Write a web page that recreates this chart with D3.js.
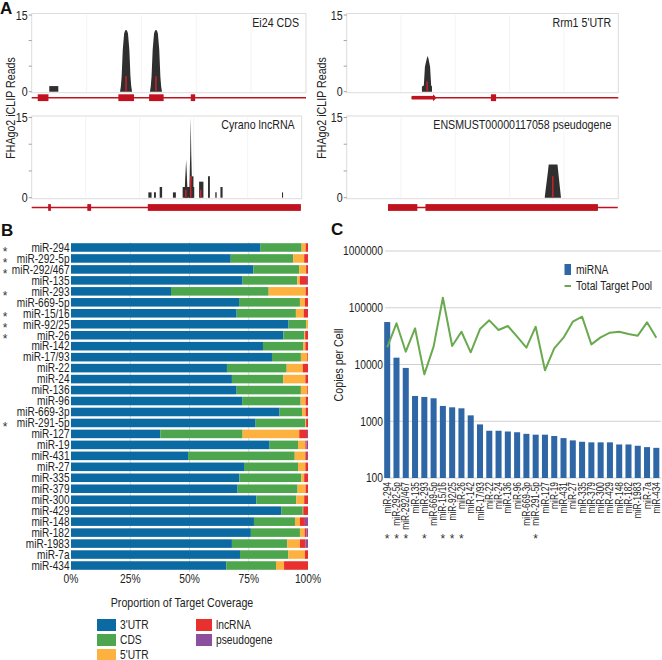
<!DOCTYPE html>
<html><head><meta charset="utf-8">
<script src="https://cdn.jsdelivr.net/npm/d3@7/dist/d3.min.js"></script>
<style>
body{margin:0;background:#fff}
svg{font-family:"Liberation Sans",Arial,sans-serif;}
</style></head><body>
<svg id="fig" width="662" height="660"></svg>
<script>
// ---------------- DATA ----------------
const mirnas = ["miR-294","miR-292-5p","miR-292/467","miR-135","miR-293","miR-669-5p","miR-15/16","miR-92/25","miR-26","miR-142","miR-17/93","miR-22","miR-24","miR-136","miR-96","miR-669-3p","miR-291-5p","miR-127","miR-19","miR-431","miR-27","miR-335","miR-379","miR-300","miR-429","miR-148","miR-182","miR-1983","miR-7a","miR-434"];
const starred = ["miR-294","miR-292-5p","miR-292/467","miR-293","miR-15/16","miR-92/25","miR-26","miR-291-5p"];
// Panel B proportions
const utr3   = [.800,.674,.769,.724,.422,.709,.699,.918,.896,.810,.848,.658,.679,.699,.722,.880,.779,.377,.838,.494,.730,.710,.703,.782,.887,.772,.759,.679,.713,.655];
const cds    = [.173,.264,.194,.231,.412,.257,.250,.074,.088,.169,.122,.252,.217,.271,.247,.095,.210,.347,.120,.450,.228,.262,.253,.169,.091,.173,.207,.234,.204,.210];
const utr5   = [.017,.046,.029,.011,.156,.021,.033,.008,.004,.010,.027,.068,.093,.027,.021,.015,.003,.239,.031,.045,.031,.012,.034,.033,.002,.021,.020,.053,.070,.034];
const lncRNA = [.010,.016,.008,.030,.010,.013,.018,.000,.012,.011,.003,.022,.011,.003,.010,.010,.008,.033,.005,.007,.011,.016,.010,.016,.020,.021,.008,.024,.013,.101];
const pseudo = [0,0,0,.004,0,0,0,0,0,0,0,0,0,0,0,0,0,.004,.006,.004,0,0,0,0,0,.013,.006,.010,0,0];
const bKeys = ["3'UTR","CDS","5'UTR","lncRNA","pseudogene"];
const bTicks = [0,0.25,0.5,0.75,1];
const bTickLabels = ["0%","25%","50%","75%","100%"];
// Panel C
const mirnaCopies = [56000,13200,8700,2790,2680,2540,1860,1760,1690,1270,880,680,680,660,640,600,580,580,550,505,460,435,425,425,425,390,390,370,350,340];
const targetPool  = [20100,53200,16800,43400,6700,20600,150000,21200,37800,16400,42200,60000,40500,47700,30900,19800,46400,7900,19300,29700,56800,69600,22600,30100,36400,37800,34400,32200,55400,29700];
const cTicks = [100,1000,10000,100000,1000000];
// Panel A (positions in % of locus window, heights in reads)
const ei24Peaks = [
  [[6.4,0],[6.4,1.1],[9.7,1.1],[9.7,0]],
  [[32.2,0],[32.5,1],[32.8,3],[33.2,8.2],[33.7,11.4],[34.1,12],[34.7,12],[35.1,11.4],[35.6,8.2],[36.0,3],[36.3,1],[36.6,0]],
  [[43.1,0],[43.4,1],[43.7,3],[44.1,8.2],[44.6,11.4],[45.0,12],[45.6,12],[46.0,11.4],[46.5,8.2],[46.9,3],[47.2,1],[47.5,0]]
];
const ei24Sites = [[34.4,3],[45.3,3]];
const ei24Exons = [[2.2,6.1],[31.6,37.3],[42.8,48.1],[58.0,59.6]];
const ei24Line = [0,100];
const rrm1Peaks = [[[27.7,0],[27.7,1],[28.4,1.2],[28.8,4.9],[29.5,6.5],[29.8,7],[30.1,6.5],[30.7,4.9],[31.1,1.2],[31.4,1],[31.4,0]]];
const rrm1Sites = [[29.6,2]];
const rrm1Exons = [[53.1,55.0]];
const rrm1Utr = [[23.9,32.5]];
const rrm1Line = [23.9,100];
const cyranoPeaks = [
  [[43.2,0],[43.2,1],[44.4,1],[44.4,0]],
  [[45.3,0],[45.3,1],[46.0,1],[46.0,0]],
  [[47.4,0],[47.4,2],[48.3,2],[48.3,0]],
  [[52.3,0],[52.3,1],[53.4,1],[53.4,0]],
  [[55.9,0],[55.9,2],[60.2,2],[60.2,0]],
  [[56.6,0],[56.8,3],[57.0,5],[57.2,7.1],[57.4,5],[57.8,0]],
  [[58.3,0],[58.5,4],[58.7,8],[58.9,15],[59.1,8],[59.3,4],[59.5,0]],
  [[59.3,0],[59.3,4],[59.9,4],[59.9,0]],
  [[62.0,0],[62.0,3],[63.6,3],[63.6,0]],
  [[65.3,0],[65.3,4],[66.0,4],[66.0,0]],
  [[68.0,0],[68.0,1],[68.5,1],[68.5,0]],
  [[69.9,0],[69.9,2],[70.7,2],[70.7,0]],
  [[92.7,0],[92.7,1],[93.1,1],[93.1,0]]
];
const cyranoSites = [[58.9,4],[62.6,1.5],[57.1,1.5]];
const cyranoExons = [[6.1,7.1],[20.6,22.0],[43.0,99.7]];
const cyranoLine = [0,99.7];
const ensPeaks = [[[72.9,0],[74.4,6.2],[77.6,6.2],[78.9,0]]];
const ensSites = [[75.9,4]];
const ensExons = [[15.2,26.0],[29.0,92.5]];
const ensLine = [15.2,99.8];

// ---------------- DRAW ----------------
const svg = d3.select("#fig");
const dark = "#2f2f2f", geneRed = "#c1121f";
const SX = 0.82; // condensed text
function T(g, x, y, str, o={}){
  const rot = o.rotate ? ` rotate(${o.rotate})` : "";
  return g.append("text").attr("transform",`translate(${x},${y})${rot} scale(${o.sx||SX},1)`)
    .attr("dy",o.dy==null?"0.35em":o.dy).attr("text-anchor",o.anchor||"start")
    .attr("font-size",o.size||12).attr("fill",o.fill||"#222").text(str);
}

function track(o){
  const g = svg.append("g");
  const x = d3.scaleLinear().domain([0,100]).range([o.x0,o.x1]);
  const y = d3.scaleLinear().domain([0,15]).range([o.yb,o.yt]);
  g.append("rect").attr("x",o.x0).attr("y",o.yt-1.5).attr("width",o.x1-o.x0).attr("height",o.yb-o.yt+2.5)
    .attr("fill","#fff").attr("stroke","#dcdcdc").attr("stroke-width",1);
  [20,40,60,80].forEach(v=>g.append("line").attr("x1",x(v)).attr("x2",x(v)).attr("y1",o.yt).attr("y2",o.yb)
    .attr("stroke","#f3f0f0").attr("stroke-width",0.8));
  [0,5,10,15].forEach(v=>g.append("line").attr("x1",o.x0-3).attr("x2",o.x0).attr("y1",y(v)).attr("y2",y(v))
    .attr("stroke","#888").attr("stroke-width",0.8));
  [0,15].forEach(v=>T(g,o.x0-4,y(v),v,{anchor:"end",size:13}));
  const area = d3.area().x(d=>x(d[0])).y0(y(0)).y1(d=>y(d[1]));
  o.peaks.forEach(p=>g.append("path").attr("d",area(p)).attr("fill",dark));
  o.sites.forEach(s=>g.append("line").attr("x1",x(s[0])).attr("x2",x(s[0])).attr("y1",y(0)).attr("y2",y(s[1]))
    .attr("stroke","#e0202a").attr("stroke-width",1.3));
  g.append("line").attr("x1",x(o.line[0])).attr("x2",x(o.line[1])).attr("y1",o.gy).attr("y2",o.gy)
    .attr("stroke",geneRed).attr("stroke-width",1.6);
  (o.utr||[]).forEach(u=>{
    g.append("rect").attr("x",x(u[0])).attr("y",o.gy-1.8).attr("width",x(u[1])-x(u[0])).attr("height",3.6).attr("fill",geneRed);
    g.append("path").attr("d",`M${x(u[1])-2},${o.gy-3.5}L${x(u[1])+1.5},${o.gy}L${x(u[1])-2},${o.gy+3.5}Z`).attr("fill",geneRed);
  });
  o.exons.forEach(e=>g.append("rect").attr("x",x(e[0])).attr("y",o.gy-3.4).attr("width",x(e[1])-x(e[0])).attr("height",6.8).attr("fill",geneRed));
  T(g,o.x1-7,o.yt+7,o.label,{anchor:"end",size:13});
}
track({x0:31.7,x1:306,yt:15,yb:91.7,gy:97.7,peaks:ei24Peaks,sites:ei24Sites,exons:ei24Exons,line:ei24Line,label:"Ei24 CDS"});
track({x0:346.7,x1:618.3,yt:15,yb:91.7,gy:97.7,peaks:rrm1Peaks,sites:rrm1Sites,exons:rrm1Exons,utr:rrm1Utr,line:rrm1Line,label:"Rrm1 5'UTR"});
track({x0:31.7,x1:301.7,yt:117.5,yb:197.7,gy:207.5,peaks:cyranoPeaks,sites:cyranoSites,exons:cyranoExons,line:cyranoLine,label:"Cyrano lncRNA"});
track({x0:346.7,x1:618.3,yt:117.5,yb:197.7,gy:207.5,peaks:ensPeaks,sites:ensSites,exons:ensExons,line:ensLine,label:"ENSMUST00000117058 pseudogene"});
[10,321].forEach(xp=>T(svg,xp,108,"FHAgo2 iCLIP Reads",{rotate:-90,anchor:"middle",size:13}));

// panel letters
[["A",0,14],["B",1,236],["C",331,235]].forEach(l=>svg.append("text").attr("x",l[1]).attr("y",l[2])
  .attr("font-weight","bold").attr("font-size",17).attr("fill","#111").text(l[0]));

// ---------- Panel B ----------
const bColors = ["#0b6aa1","#4da54d","#fdb13e","#e8302f","#8c4f9d"];
const bData = mirnas.map((m,i)=>({name:m,"3'UTR":utr3[i],"CDS":cds[i],"5'UTR":utr5[i],"lncRNA":lncRNA[i],"pseudogene":pseudo[i]}));
const bx = d3.scaleLinear().domain([0,1]).range([71,308]);
const by = d3.scaleBand().domain(mirnas).range([242,571]).paddingInner(0.22).paddingOuter(0.11);
const gB = svg.append("g");
bTicks.slice(1,4).forEach(t=>gB.append("line").attr("x1",bx(t)).attr("x2",bx(t)).attr("y1",242).attr("y2",572)
  .attr("stroke","#d9d9d9").attr("stroke-width",1));
const stack = d3.stack().keys(bKeys)(bData);
stack.forEach((layer,k)=>{
  gB.selectAll(null).data(layer).enter().append("rect")
    .attr("x",d=>bx(d[0])).attr("width",d=>Math.max(0,bx(Math.min(1,d[1]))-bx(d[0])))
    .attr("y",d=>by(d.data.name)).attr("height",by.bandwidth()).attr("fill",bColors[k]);
});
mirnas.forEach(m=>T(gB,69.5,by(m)+by.bandwidth()/2,m,{anchor:"end",size:12.3}));
starred.forEach(m=>T(gB,5,by(m)+by.bandwidth()/2+4,"*",{anchor:"middle",size:12,fill:"#333",sx:1}));
bTicks.forEach((t,i)=>T(gB,bx(t),579,bTickLabels[i],{anchor:"middle",size:12.5}));
T(gB,182,602,"Proportion of Target Coverage",{anchor:"middle",size:13});
const legPos = [[97,619],[97,634],[97,649],[196,619],[196,634]];
bKeys.forEach((k,i)=>{
  gB.append("rect").attr("x",legPos[i][0]).attr("y",legPos[i][1]).attr("width",i<3?19:16).attr("height",12).attr("fill",bColors[i]);
  T(gB,legPos[i][0]+(i<3?23:20),legPos[i][1]+6,k,{size:12.5});
});

// ---------- Panel C ----------
const gC = svg.append("g");
const cx = d3.scaleBand().domain(mirnas).range([382.56,660.96]).paddingInner(0.35).paddingOuter(0.175);
const cy = d3.scaleLog().domain([100,1000000]).range([478,251]);
cTicks.forEach(t=>{
  gC.append("line").attr("x1",385).attr("x2",661).attr("y1",cy(t)).attr("y2",cy(t)).attr("stroke","#d0d0d0").attr("stroke-width",1);
  T(gC,383,cy(t),t,{anchor:"end",size:12.5});
});
gC.selectAll(null).data(mirnas).enter().append("rect")
  .attr("x",d=>cx(d)).attr("width",cx.bandwidth())
  .attr("y",(d,i)=>cy(mirnaCopies[i])).attr("height",(d,i)=>cy(100)-cy(mirnaCopies[i])).attr("fill","#2f67a6");
const line = d3.line().x((d,i)=>cx(mirnas[i])+cx.bandwidth()/2).y(d=>cy(d));
gC.append("path").attr("d",line(targetPool)).attr("fill","none").attr("stroke","#6aaa4e").attr("stroke-width",2).attr("stroke-linejoin","round");
mirnas.forEach(m=>T(gC,cx(m)+cx.bandwidth()/2,482,m,{rotate:-90,anchor:"end",size:10.2}));
starred.forEach(m=>T(gC,cx(m)+cx.bandwidth()/2,543,"*",{anchor:"middle",size:12,fill:"#333",sx:1,dy:0}));
T(gC,338,365,"Copies per Cell",{rotate:-90,anchor:"middle",size:13});
gC.append("rect").attr("x",564.5).attr("y",264).attr("width",6.5).attr("height",11).attr("fill","#2f67a6");
T(gC,576,269.5,"miRNA",{size:12.5});
gC.append("line").attr("x1",564.5).attr("x2",571).attr("y1",286).attr("y2",286).attr("stroke","#6aaa4e").attr("stroke-width",2);
T(gC,576,286,"Total Target Pool",{size:12.5});
</script>
</body></html>
